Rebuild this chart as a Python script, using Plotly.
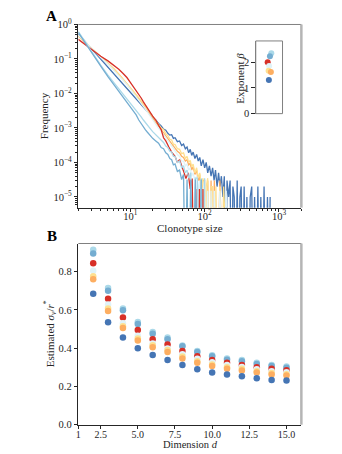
import plotly.graph_objects as go

# ---------------- panel A: clonotype size distributions (0 = empty bin)
size_dark = list(range(2, 21)) + [22, 24, 26, 28, 30, 32, 34, 36, 38, 40, 43, 46, 49, 52, 55, 58, 61, 64, 67, 70,
                                  74, 78, 82, 86, 90, 95, 100, 105, 110, 116, 122, 128, 134, 140, 147, 154, 161, 168,
                                  176, 184, 192, 200, 210, 220, 230, 240, 250, 262, 274, 286, 298, 310, 325, 340, 355,
                                  370, 390, 410, 430, 450, 470, 495, 520, 545, 570, 600, 630, 660, 700, 740, 760]
freq_dark = [0.53, 0.20, 0.10, 0.059, 0.038, 0.027, 0.0195, 0.0148, 0.0113, 0.0089, 0.0071, 0.0058, 0.0048, 0.0040,
             0.0035, 0.0030, 0.0026, 0.0023, 0.0020,
             1.7e-3, 1.35e-3, 1.15e-3, 9.2e-4, 8.6e-4, 7e-4, 6.2e-4, 6.4e-4, 5e-4, 5.2e-4, 4e-4, 4.2e-4, 3.1e-4,
             3.4e-4, 2.5e-4, 2.8e-4, 1.9e-4, 2.4e-4, 1.6e-4, 2e-4, 1.3e-4, 1.7e-4, 1.1e-4, 1.4e-4, 8e-5, 1.2e-4,
             7e-5, 1e-4, 5e-5, 8e-5, 4e-5, 7e-5, 3e-5, 6e-5, 2e-5, 5e-5, 2e-5, 4e-5, 1e-5, 4e-5, 0, 3e-5, 1e-5,
             3e-5, 0, 2e-5, 1e-5, 0, 3e-5, 0, 1e-5, 2e-5, 0, 2e-5, 0, 1e-5, 0, 1e-5, 2e-5, 0, 1e-5, 0, 2e-5, 0,
             1e-5, 0, 2e-5, 0, 1e-5, 0, 1e-5]

size_orange = list(range(2, 21)) + [22, 24, 26, 28, 30, 32, 34, 36, 38, 40, 43, 46, 49, 52, 55, 58, 61, 64, 67, 70,
                                    74, 78, 82, 86, 90, 95, 100, 105, 110, 116, 122, 128, 135, 142, 150, 160, 170, 180]
freq_orange = [0.46, 0.21, 0.12, 0.078, 0.052, 0.036, 0.026, 0.019, 0.0145, 0.0112, 0.0088, 0.0070, 0.0057, 0.0046,
               0.0038, 0.0031, 0.0026, 0.0022, 0.0019,
               1.45e-3, 1.15e-3, 9e-4, 7.6e-4, 6e-4, 5.2e-4, 4.1e-4, 3.7e-4, 3e-4, 2.7e-4,
               2.1e-4, 1.9e-4, 1.5e-4, 1.4e-4, 1.1e-4, 1.2e-4, 8.5e-5, 9.5e-5, 6e-5, 7.5e-5,
               4.5e-5, 6e-5, 3e-5, 4.5e-5, 0, 3e-5, 3e-5, 0, 3e-5, 0,
               3e-5, 0, 3e-5, 0, 0, 3e-5, 0, 0]

size_yellow = list(range(2, 21)) + [22, 24, 26, 28, 30, 32, 34, 36, 38, 40, 43, 46, 49, 52, 55, 58, 61, 64, 67, 70,
                                    74, 78, 82, 86, 90, 95, 100, 105, 110, 116, 122, 128, 135, 142, 150, 160, 170,
                                    180, 195, 210]
freq_yellow = [0.47, 0.21, 0.118, 0.075, 0.051, 0.036, 0.026, 0.0195, 0.015, 0.0118, 0.0094, 0.0075, 0.0061, 0.005,
               0.0041, 0.0034, 0.0029, 0.0024, 0.0021,
               1.6e-3, 1.3e-3, 1.0e-3, 9e-4, 6.8e-4, 6e-4, 4.7e-4, 4.5e-4, 3.4e-4, 3.3e-4,
               2.5e-4, 2.4e-4, 1.8e-4, 1.9e-4, 1.3e-4, 1.5e-4, 1.0e-4, 1.15e-4, 7.5e-5, 9e-5,
               5e-5, 7e-5, 3.5e-5, 5e-5, 2e-5, 3.5e-5, 0, 2e-5, 3.5e-5, 0,
               2e-5, 2e-5, 0, 2e-5, 0, 2e-5, 0, 2e-5, 0, 0]

size_pale = list(size_yellow)
freq_pale = [0.5, 0.2, 0.11, 0.07, 0.047, 0.033, 0.024, 0.018, 0.0135, 0.0105, 0.0083, 0.0066, 0.0053, 0.0043,
             0.0035, 0.0029, 0.0024, 0.002, 0.0017,
             1.25e-3, 9.8e-4, 8e-4, 6.3e-4, 5.2e-4, 4.2e-4, 3.6e-4, 3e-4, 2.6e-4, 2.2e-4,
             1.7e-4, 1.5e-4, 1.1e-4, 1.1e-4, 8e-5, 9e-5, 6e-5, 7e-5, 4e-5, 5e-5,
             3e-5, 4e-5, 1.5e-5, 3e-5, 0, 1.5e-5, 3e-5, 0, 1.5e-5, 0,
             1.5e-5, 0, 1.5e-5, 0, 0, 1.5e-5, 0, 0, 1.5e-5, 0]

size_red = list(range(2, 21)) + [22, 24, 26, 28, 30, 33, 36, 40, 43, 46, 50, 53, 56, 60, 64, 68, 72, 76, 80, 85, 90,
                                 95, 100]
freq_red = [0.37, 0.185, 0.12, 0.088, 0.066, 0.050, 0.038, 0.029, 0.021, 0.016, 0.0124, 0.0095, 0.0074, 0.0057,
            0.0045, 0.0037, 0.0030, 0.0026, 0.0022,
            1.7e-3, 1.2e-3, 9e-4, 5.2e-4, 4.2e-4, 2.8e-4, 2e-4, 1.5e-4, 1e-4, 1.2e-4, 6.5e-5, 5e-5, 3.4e-5,
            5e-5, 1.7e-5, 3.4e-5, 0, 1.7e-5, 0, 1.7e-5, 0, 1.7e-5, 0]

size_med = list(range(2, 21)) + [22, 24, 26, 28, 30, 32, 34, 36, 38, 40, 43, 46, 49, 52, 55, 58, 61, 65, 70, 75, 80,
                                 85, 90]
freq_med = [0.58, 0.15, 0.062, 0.031, 0.018, 0.0115, 0.0078, 0.0055, 0.0040, 0.0031, 0.0024, 0.0017, 0.0013,
            0.00105, 0.00088, 0.00075, 0.00064, 0.00056, 0.0005,
            4.2e-4, 3.6e-4, 2.7e-4, 2.5e-4, 1.9e-4, 1.7e-4, 1.3e-4, 1.2e-4, 8.5e-5, 9e-5,
            5.5e-5, 6e-5, 3.2e-5, 4.5e-5, 0, 3.2e-5, 0, 3.2e-5, 0, 3.2e-5, 0, 0, 3.2e-5]

size_light = list(range(2, 21)) + [22, 24, 26, 28, 30, 32, 34, 36, 38, 40, 43, 46, 49, 52, 55, 58, 61, 65, 70, 75,
                                   80, 85, 90, 95, 100]
freq_light = [0.62, 0.16, 0.066, 0.034, 0.021, 0.0138, 0.0096, 0.007, 0.0052, 0.004, 0.0032, 0.0026, 0.0021,
              0.0017, 0.0014, 0.0012, 0.00104, 0.0009, 0.00078,
              6.3e-4, 5.2e-4, 4.3e-4, 3.8e-4, 3e-4, 2.7e-4, 2.1e-4, 2e-4, 1.5e-4, 1.5e-4,
              1e-4, 1.1e-4, 7e-5, 8e-5, 5e-5, 6e-5, 3.5e-5, 5e-5, 0, 3.5e-5, 3.5e-5, 0, 3.5e-5, 0, 3.5e-5]

# inset: fitted exponent beta (x = small horizontal jitter)
beta_jitter = [0.16, 0.06, -0.11, 0.0, -0.04, 0.13, -0.02]
beta_vals = [2.35, 2.23, 2.0, 1.85, 1.67, 1.62, 1.31]

# ---------------- panel B: estimated sigma_v / r* vs dimension
dims = list(range(2, 16))
est_light = [0.915, 0.715, 0.608, 0.537, 0.485, 0.456, 0.414, 0.385, 0.363, 0.346, 0.338, 0.324, 0.312, 0.304]
est_med = [0.895, 0.700, 0.598, 0.527, 0.475, 0.447, 0.410, 0.380, 0.358, 0.340, 0.332, 0.318, 0.307, 0.298]
est_red = [0.844, 0.658, 0.560, 0.495, 0.447, 0.419, 0.385, 0.358, 0.338, 0.324, 0.312, 0.300, 0.292, 0.285]
est_pale = [0.805, 0.628, 0.530, 0.465, 0.425, 0.398, 0.368, 0.345, 0.326, 0.312, 0.302, 0.290, 0.280, 0.274]
est_yellow = [0.776, 0.608, 0.515, 0.450, 0.415, 0.390, 0.356, 0.332, 0.315, 0.300, 0.292, 0.280, 0.270, 0.264]
est_orange = [0.760, 0.594, 0.506, 0.440, 0.405, 0.380, 0.346, 0.324, 0.307, 0.292, 0.284, 0.273, 0.262, 0.257]
est_dark = [0.684, 0.535, 0.456, 0.400, 0.364, 0.338, 0.312, 0.290, 0.273, 0.262, 0.253, 0.243, 0.234, 0.231]

C = dict(light="#abd9e9", med="#74add1", red="#d73027", pale="#e0f3f8",
         yellow="#fee090", orange="#fdae61", dark="#4575b4")

FONT = "Liberation Serif"
INK = "#262626"


def clip0(vals):
    # matplotlib-style clipping of empty bins on a log axis
    return [v if v > 0 else 1e-8 for v in vals]


fig = go.Figure()

lines = [("dark", size_dark, freq_dark), ("orange", size_orange, freq_orange),
         ("yellow", size_yellow, freq_yellow), ("pale", size_pale, freq_pale),
         ("red", size_red, freq_red), ("light", size_light, freq_light), ("med", size_med, freq_med)]
for key, xs, ys in lines:
    fig.add_trace(go.Scatter(x=xs, y=clip0(ys), mode="lines", line=dict(color=C[key], width=1.3),
                             xaxis="x", yaxis="y", showlegend=False))

order = ["light", "med", "red", "pale", "yellow", "orange", "dark"]
for key, bx, bv in zip(order, beta_jitter, beta_vals):
    fig.add_trace(go.Scatter(x=[bx], y=[bv], mode="markers", marker=dict(color=C[key], size=6),
                             xaxis="x3", yaxis="y3", showlegend=False))

for key, vals in [("light", est_light), ("med", est_med), ("red", est_red), ("pale", est_pale),
                  ("yellow", est_yellow), ("orange", est_orange), ("dark", est_dark)]:
    fig.add_trace(go.Scatter(x=dims, y=vals, mode="markers", marker=dict(color=C[key], size=6.5),
                             xaxis="x2", yaxis="y2", showlegend=False))

W, H = 342, 454


def px_x(p):
    return p / W


def px_y(p):
    return 1 - p / H


A = dict(x0=px_x(76), x1=px_x(301), y0=px_y(206), y1=px_y(17))
B = dict(x0=px_x(76), x1=px_x(301), y0=px_y(430), y1=px_y(243))
I = dict(x0=px_x(255), x1=px_x(282), y0=px_y(109), y1=px_y(34))

tickfont = dict(family=FONT, size=10.5, color=INK)
axis_common = dict(showgrid=False, zeroline=False, showline=True, linecolor=INK, linewidth=1,
                   ticks="outside", ticklen=3.5, tickwidth=0.8, tickcolor=INK, tickfont=tickfont)

xminor = [m * 10 ** e for e in range(0, 4) for m in range(2, 10) if m * 10 ** e <= 2000]
yminor = [m * 10.0 ** e for e in range(-6, 0) for m in range(2, 10) if m * 10.0 ** e >= 5e-6]

fig.update_layout(
    width=W, height=H, margin=dict(l=0, r=0, t=0, b=0),
    paper_bgcolor="white", plot_bgcolor="white", hovermode=False,
    xaxis=dict(axis_common, type="log", domain=[A["x0"], A["x1"]], anchor="y", range=[0.301, 3.301],
               tickvals=[10, 100, 1000], ticktext=["10<sup>1</sup>", "10<sup>2</sup>", "10<sup>3</sup>"],
               ticklabelstandoff=-5,
               minor=dict(tickvals=xminor, ticks="outside", ticklen=2, tickcolor=INK, tickwidth=0.6)),
    yaxis=dict(axis_common, type="log", domain=[A["y0"], A["y1"]], anchor="x", range=[-5.31, 0],
               tickvals=[1e-5, 1e-4, 1e-3, 1e-2, 1e-1, 1],
               ticktext=["10<sup>−5</sup>", "10<sup>−4</sup>", "10<sup>−3</sup>", "10<sup>−2</sup>",
                         "10<sup>−1</sup>", "10<sup>0</sup>"],
               minor=dict(tickvals=yminor, ticks="outside", ticklen=2, tickcolor=INK, tickwidth=0.6)),
    xaxis2=dict(axis_common, domain=[B["x0"], B["x1"]], anchor="y2", range=[1, 16],
                tickvals=[1, 2.5, 5, 7.5, 10, 12.5, 15], ticklabelstandoff=-3,
                tickfont=dict(family=FONT, size=10, color=INK),
                ticktext=["1", "2.5", "5.0", "7.5", "10.0", "12.5", "15.0"]),
    yaxis2=dict(axis_common, domain=[B["y0"], B["y1"]], anchor="x2", range=[0, 0.947],
                tickvals=[0, 0.2, 0.4, 0.6, 0.8], ticktext=["0.0", "0.2", "0.4", "0.6", "0.8"]),
    xaxis3=dict(domain=[I["x0"], I["x1"]], anchor="y3", range=[-1, 1], showticklabels=False,
                showgrid=False, zeroline=False, ticks=""),
    yaxis3=dict(axis_common, domain=[I["y0"], I["y1"]], anchor="x3", range=[0, 2.83],
                tickvals=[0, 1, 2], linecolor="#808080"),
)

shapes = []
for box in (A, B):
    shapes.append(dict(type="line", xref="paper", yref="paper", x0=box["x0"], x1=box["x1"],
                       y0=box["y1"], y1=box["y1"], line=dict(color="#808080", width=1)))
    shapes.append(dict(type="line", xref="paper", yref="paper", x0=box["x1"], x1=box["x1"],
                       y0=box["y0"], y1=box["y1"], line=dict(color="#b5b5b5", width=2.5)))
shapes.append(dict(type="rect", xref="paper", yref="paper", x0=I["x0"], x1=I["x1"], y0=I["y0"], y1=I["y1"],
                   line=dict(color="#808080", width=1)))
fig.update_layout(shapes=shapes)

lab = dict(family=FONT, size=11, color=INK)
ann = [
    dict(text="<b>A</b>", x=px_x(49), y=px_y(8), font=dict(family=FONT, size=15, color="black")),
    dict(text="<b>B</b>", x=px_x(49), y=px_y(235), font=dict(family=FONT, size=15, color="black")),
    dict(text="Frequency", x=px_x(41), y=px_y(111), textangle=-90, font=lab),
    dict(text="Clonotype size", x=px_x(189), y=px_y(227), font=lab),
    dict(text="Exponent <i>β</i>", x=px_x(239), y=px_y(72), textangle=-90, font=lab),
    dict(text="Estimated <i>σ<sub>v</sub></i>/<i>r</i><sup>*</sup>", x=px_x(47), y=px_y(336),
         textangle=-90, font=lab),
    dict(text="Dimension <i>d</i>", x=px_x(189), y=px_y(450.5), font=dict(family=FONT, size=10.5, color=INK)),
]
for a in ann:
    a.update(xref="paper", yref="paper", showarrow=False, xanchor="center", yanchor="middle")
fig.update_layout(annotations=ann)

# drop the default page margin so the figure sits at the window origin
fig.write_html("out.html", config={"displayModeBar": False},
               post_script="document.body.style.margin='0';")
